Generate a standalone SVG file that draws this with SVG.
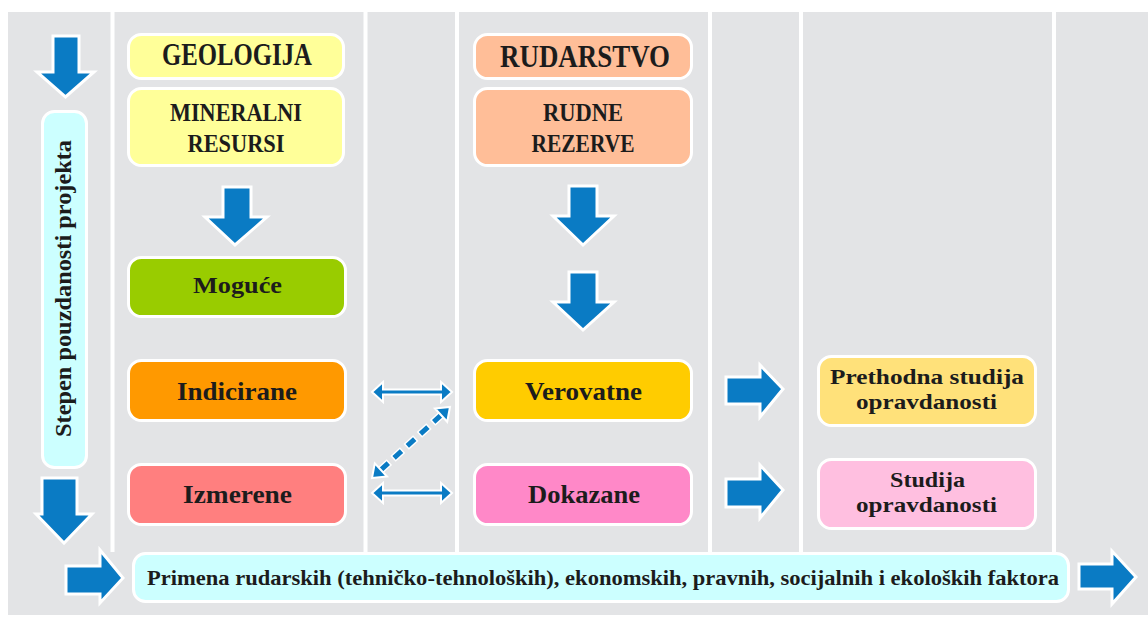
<svg xmlns="http://www.w3.org/2000/svg" width="1148" height="617" viewBox="0 0 1148 617">
<style>
.bg{fill:#e3e4e6}
.sep{stroke:#ffffff;stroke-width:4}
.box{stroke:#ffffff;stroke-width:3}
.arr{fill:#0a7bc4;stroke:#ffffff;stroke-width:3;stroke-linejoin:miter}
.dbl{fill:#0a7bc4;stroke:#ffffff;stroke-width:2;stroke-linejoin:miter}
text{font-family:"Liberation Serif","DejaVu Serif",serif;font-weight:bold;fill:#1c1c1c;text-anchor:middle}
.t32{font-size:32px}
.t26{font-size:26px}
.t24{font-size:24px}
.t22{font-size:22px}
</style>
<rect class="bg" x="8" y="12" width="1140" height="603"/>
<g id="separators">
<line class="sep" x1="112.5" y1="0" x2="112.5" y2="552"/>
<line class="sep" x1="365.5" y1="0" x2="365.5" y2="552"/>
<line class="sep" x1="457" y1="0" x2="457" y2="552"/>
<line class="sep" x1="710" y1="0" x2="710" y2="552"/>
<line class="sep" x1="801" y1="0" x2="801" y2="552"/>
<line class="sep" x1="1054" y1="0" x2="1054" y2="552"/>
</g>

<g id="geologija">
<rect class="box" x="128.5" y="34.5" width="215" height="44" rx="13" fill="#ffff99"/>
<text class="t32" x="237" y="65" textLength="150" lengthAdjust="spacingAndGlyphs">GEOLOGIJA</text>
</g>
<g id="mineralni-resursi">
<rect class="box" x="128.5" y="88.5" width="215" height="77" rx="13" fill="#ffff99"/>
<text class="t26" x="236" y="121" textLength="132" lengthAdjust="spacingAndGlyphs">MINERALNI</text>
<text class="t26" x="236" y="152" textLength="97" lengthAdjust="spacingAndGlyphs">RESURSI</text>
</g>
<g id="rudarstvo">
<rect class="box" x="474.5" y="34.5" width="217" height="44" rx="13" fill="#ffbe98"/>
<text class="t32" x="585" y="67" textLength="170" lengthAdjust="spacingAndGlyphs">RUDARSTVO</text>
</g>
<g id="rudne-rezerve">
<rect class="box" x="474.5" y="88.5" width="217" height="77" rx="13" fill="#ffbe98"/>
<text class="t26" x="583" y="121" textLength="80" lengthAdjust="spacingAndGlyphs">RUDNE</text>
<text class="t26" x="583" y="152" textLength="103" lengthAdjust="spacingAndGlyphs">REZERVE</text>
</g>
<g id="moguce">
<rect class="box" x="128.5" y="257.5" width="217" height="59" rx="13" fill="#99cc00"/>
<text class="t24" x="237.5" y="293" textLength="89" lengthAdjust="spacingAndGlyphs">Moguće</text>
</g>
<g id="indicirane">
<rect class="box" x="128.5" y="360.5" width="217" height="60" rx="13" fill="#ff9900"/>
<text class="t26" x="237" y="400" textLength="120" lengthAdjust="spacingAndGlyphs">Indicirane</text>
</g>
<g id="izmerene">
<rect class="box" x="128.5" y="464.5" width="217" height="60" rx="13" fill="#ff7f7f"/>
<text class="t26" x="237.5" y="503" textLength="109" lengthAdjust="spacingAndGlyphs">Izmerene</text>
</g>
<g id="verovatne">
<rect class="box" x="474.5" y="360.5" width="217" height="60" rx="13" fill="#ffcc00"/>
<text class="t26" x="583.5" y="400" textLength="117" lengthAdjust="spacingAndGlyphs">Verovatne</text>
</g>
<g id="dokazane">
<rect class="box" x="474.5" y="464.5" width="217" height="60" rx="13" fill="#ff88c8"/>
<text class="t26" x="584" y="503" textLength="112" lengthAdjust="spacingAndGlyphs">Dokazane</text>
</g>
<g id="prethodna-studija">
<rect class="box" x="818.5" y="356.5" width="217" height="69" rx="13" fill="#ffe17a"/>
<text class="t22" x="927" y="384" textLength="194" lengthAdjust="spacingAndGlyphs">Prethodna studija</text>
<text class="t22" x="926.5" y="409" textLength="141" lengthAdjust="spacingAndGlyphs">opravdanosti</text>
</g>
<g id="studija">
<rect class="box" x="818.5" y="459.5" width="217" height="69" rx="13" fill="#ffbfe0"/>
<text class="t22" x="927.5" y="487" textLength="75" lengthAdjust="spacingAndGlyphs">Studija</text>
<text class="t22" x="926.5" y="512" textLength="141" lengthAdjust="spacingAndGlyphs">opravdanosti</text>
</g>
<g id="stepen">
<rect class="box" x="42.5" y="111.5" width="44" height="356" rx="12" fill="#ccffff"/>
<text class="t24" x="0" y="0" transform="translate(71,288.5) rotate(-90)" textLength="297" lengthAdjust="spacingAndGlyphs">Stepen pouzdanosti projekta</text>
</g>
<g id="primena">
<rect class="box" x="133.5" y="553.5" width="935" height="48" rx="12" fill="#ccffff"/>
<text class="t22" x="603" y="585" textLength="912" lengthAdjust="spacingAndGlyphs">Primena rudarskih (tehničko-tehnoloških), ekonomskih, pravnih, socijalnih i ekoloških faktora</text>
</g>

<g id="connectors">
<polygon class="arr" points="53,36 79,36 79,72 94,72 65.5,97 37,72 53,72"/>
<polygon class="arr" points="42,478 77,478 77,514 92,514 64,543 36,514 42,514"/>
<polygon class="arr" points="66,566 100,566 100,550 123,578 100,603 100,594 66,594"/>
<polygon class="arr" points="1079,564 1112,564 1112,551 1136,577 1112,604 1112,589 1079,589"/>
<polygon class="arr" points="223,187 251,187 251,217 267,217 235,245 205,217 223,217"/>
<polygon class="arr" points="569,186 597,186 597,216 614,216 583,245 553,216 569,216"/>
<polygon class="arr" points="569,272 597,272 597,302 614,302 583,330 553,302 569,302"/>
<polygon class="arr" points="726,377 760,377 760,365 783,389 760,417 760,404 726,404"/>
<polygon class="arr" points="726,479 760,479 760,465 783,490 760,518 760,507 726,507"/>
<polygon class="dbl" points="372,392 383,382 383,389.5 441,389.5 441,382 452,392 441,402 441,394.5 383,394.5 383,402"/>
<polygon class="dbl" points="372,493 383,483 383,490.5 441,490.5 441,483 452,493 441,503 441,495.5 383,495.5 383,503"/>
<line x1="380.9" y1="469.9" x2="441.1" y2="415.1" stroke="#ffffff" stroke-width="8" stroke-dasharray="13 4.85" stroke-dashoffset="1.5"/>
<line x1="380.9" y1="469.9" x2="441.1" y2="415.1" stroke="#0a7bc4" stroke-width="5" stroke-dasharray="10 7.85"/>
<polygon class="dbl" points="450,407 447.2,421.8 435,408.5"/>
<polygon class="dbl" points="372,478 387,476.5 374.8,463.3"/>
</g>
</svg>
